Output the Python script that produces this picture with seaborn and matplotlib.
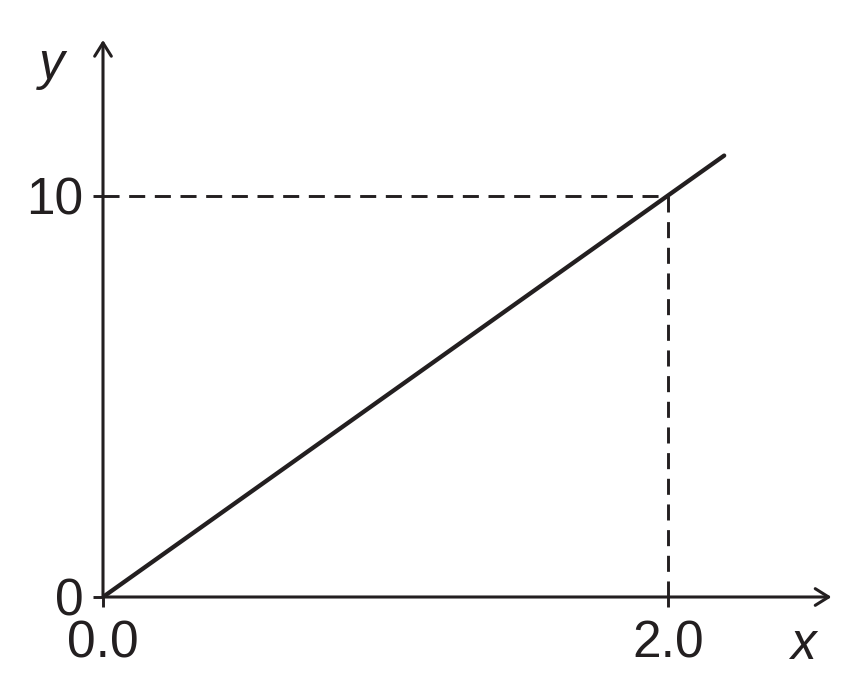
import numpy as np
import pandas as pd
import seaborn as sns
import matplotlib
matplotlib.use('Agg')
import matplotlib.pyplot as plt

sns.set_theme(style='white')
plt.rcParams['font.family'] = ['Liberation Sans', 'DejaVu Sans']

ink = '#231f20'

# data
line_x = [0.0, 2.2]
line_y = [0.0, 11.0]
mark_x = 2.0
mark_y = 10
xticks = [0.0, 2.0]
xtick_labels = ['0.0', '2.0']
yticks = [0, 10]
ytick_labels = ['0', '10']

df = pd.DataFrame({'x': line_x, 'y': line_y})

fig = plt.figure(figsize=(8.58, 6.85), dpi=100)
ax = fig.add_axes([103 / 858, 88 / 685, 2.6 * 282.35 / 858, 14 * 40.13 / 685])

sns.lineplot(data=df, x='x', y='y', ax=ax, color=ink, lw=3.1)

# dashed guides to the point
ax.plot([0, mark_x], [mark_y, mark_y], color=ink, lw=2.1, dashes=(5.5, 3.3))
ax.plot([mark_x, mark_x], [0, mark_y], color=ink, lw=2.1, dashes=(5.5, 3.3))

ax.set_xlim(0, 2.6)
ax.set_ylim(0, 14)
for s in ax.spines.values():
    s.set_visible(False)

# axes with arrow heads
arrow = dict(arrowstyle='->,head_length=0.8,head_width=0.5', color=ink, lw=2.2,
             shrinkA=0, shrinkB=0)
ax.annotate('', xy=(2.58, 0), xytext=(0, 0), arrowprops=arrow, annotation_clip=False)
ax.annotate('', xy=(0, 13.88), xytext=(0, 0), arrowprops=arrow, annotation_clip=False)

ax.set_xticks(xticks, xtick_labels)
ax.set_yticks(yticks, ytick_labels)
ax.tick_params(axis='both', direction='out', length=7.2, width=2.1, color=ink,
               labelsize=37, labelcolor=ink, bottom=True, left=True)
ax.tick_params(axis='x', pad=9)
ax.tick_params(axis='y', pad=7)
ax.set_xlabel('')
ax.set_ylabel('')
ax.grid(False)

ax.text(-0.18, 13.25, 'y', fontsize=37, style='italic', color=ink,
        ha='center', va='center', clip_on=False)
ax.text(2.48, -1.22, 'x', fontsize=37, style='italic', color=ink,
        ha='center', va='center', clip_on=False)

fig.savefig('out.png', dpi=100)
